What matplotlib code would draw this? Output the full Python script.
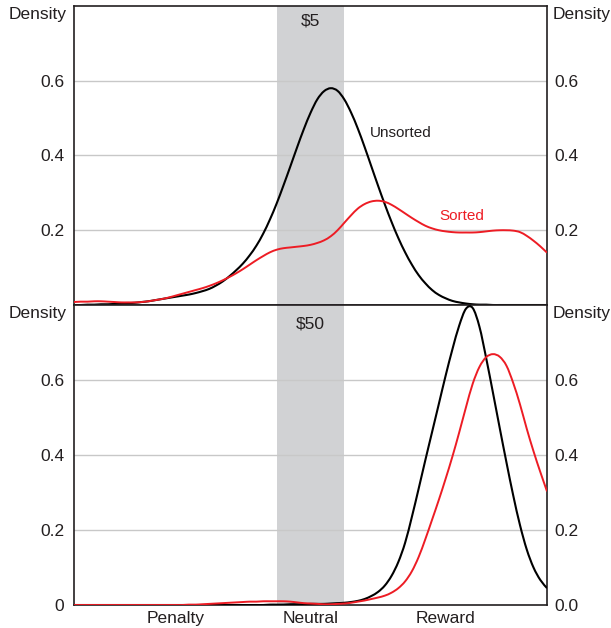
import matplotlib
matplotlib.use("Agg")
import matplotlib.pyplot as plt
import matplotlib.transforms as mtransforms
from matplotlib.path import Path
from matplotlib.patches import PathPatch
import numpy as np

plt.rcParams['font.family'] = ['Liberation Sans', 'DejaVu Sans']

# evaluation grid shared by all density curves (-1.75 .. 1.75, step 0.05)
x = np.round(np.arange(-1.75, 1.7501, 0.05), 2)

categories = ["Penalty", "Neutral", "Reward"]
category_pos = [-1, 0, 1]
neutral_band = (-0.25, 0.25)
panel_titles = ["$5", "$50"]

# $5 stake
unsorted_5 = [
    0.000, 0.000, 0.001, 0.001, 0.002, 0.002, 0.003, 0.004, 0.005, 0.006,
    0.008, 0.010, 0.013, 0.016, 0.019, 0.022, 0.025, 0.028, 0.032, 0.037,
    0.043, 0.052, 0.063, 0.077, 0.093, 0.111, 0.133, 0.159, 0.191, 0.229,
    0.272, 0.320, 0.370, 0.421, 0.470, 0.514, 0.550, 0.572, 0.580, 0.573,
    0.550, 0.515, 0.472, 0.423, 0.371, 0.319, 0.269, 0.222, 0.179, 0.141,
    0.108, 0.080, 0.058, 0.040, 0.027, 0.018, 0.011, 0.007, 0.004, 0.002,
    0.001, 0.001, 0.000, 0.000, 0.000, 0.000, 0.000, 0.000, 0.000, 0.000,
    0.000,
]
sorted_5 = [
    0.008, 0.009, 0.009, 0.010, 0.010, 0.009, 0.008, 0.007, 0.007, 0.007,
    0.008, 0.010, 0.013, 0.016, 0.020, 0.025, 0.030, 0.035, 0.040, 0.045,
    0.051, 0.058, 0.066, 0.075, 0.085, 0.096, 0.108, 0.120, 0.131, 0.141,
    0.148, 0.152, 0.154, 0.156, 0.158, 0.161, 0.166, 0.173, 0.184, 0.200,
    0.220, 0.240, 0.258, 0.270, 0.277, 0.279, 0.276, 0.268, 0.257, 0.245,
    0.233, 0.222, 0.212, 0.205, 0.200, 0.197, 0.195, 0.194, 0.194, 0.194,
    0.195, 0.197, 0.199, 0.200, 0.200, 0.199, 0.195, 0.185, 0.172, 0.157,
    0.140,
]

# $50 stake
unsorted_50 = [
    0.000, 0.000, 0.000, 0.000, 0.000, 0.000, 0.000, 0.000, 0.000, 0.000,
    0.000, 0.000, 0.000, 0.000, 0.000, 0.000, 0.000, 0.000, 0.000, 0.000,
    0.000, 0.000, 0.000, 0.000, 0.000, 0.000, 0.000, 0.000, 0.000, 0.001,
    0.001, 0.001, 0.002, 0.002, 0.002, 0.003, 0.003, 0.003, 0.004, 0.005,
    0.006, 0.008, 0.011, 0.016, 0.024, 0.035, 0.052, 0.078, 0.115, 0.166,
    0.235, 0.310, 0.387, 0.462, 0.537, 0.612, 0.682, 0.745, 0.790, 0.792,
    0.742, 0.658, 0.566, 0.472, 0.380, 0.292, 0.213, 0.148, 0.100, 0.067,
    0.045,
]
sorted_50 = [
    0.000, 0.000, 0.000, 0.000, 0.000, 0.000, 0.000, 0.000, 0.000, 0.000,
    0.000, 0.000, 0.000, 0.000, 0.000, 0.000, 0.000, 0.001, 0.001, 0.002,
    0.003, 0.004, 0.005, 0.006, 0.007, 0.008, 0.009, 0.009, 0.010, 0.010,
    0.010, 0.010, 0.009, 0.007, 0.005, 0.004, 0.003, 0.002, 0.002, 0.003,
    0.004, 0.006, 0.009, 0.012, 0.016, 0.020, 0.025, 0.033, 0.045, 0.063,
    0.090, 0.128, 0.176, 0.228, 0.281, 0.337, 0.396, 0.460, 0.527, 0.590,
    0.635, 0.661, 0.669, 0.662, 0.638, 0.592, 0.535, 0.470, 0.410, 0.355,
    0.303,
]

TEXT = "#231f20"
BAND = "#d1d2d4"
GRID = "#c8c8c8"
RED = "#ed1c24"
FS = 12.5


def smooth_curve(ax, xs, ys, color, lw):
    """Draw a line through the points as a Catmull-Rom style bezier path."""
    p = np.column_stack([xs, ys]).astype(float)
    n = len(p)
    verts = [p[0]]
    codes = [Path.MOVETO]
    for i in range(n - 1):
        p0 = p[i - 1] if i > 0 else p[i]
        p3 = p[i + 2] if i + 2 < n else p[i + 1]
        c1 = p[i] + (p[i + 1] - p0) / 6.0
        c2 = p[i + 1] - (p3 - p[i]) / 6.0
        verts += [c1, c2, p[i + 1]]
        codes += [Path.CURVE4] * 3
    patch = PathPatch(Path(verts, codes), fill=False, edgecolor=color,
                      lw=lw, zorder=3, capstyle="butt")
    ax.add_patch(patch)


fig = plt.figure(figsize=(6.11, 6.28), dpi=100)
ax_top = fig.add_axes([0.1211, 0.5143, 0.7742, 0.4762])
ax_bot = fig.add_axes([0.1211, 0.0366, 0.7742, 0.4777])

panels = [
    (ax_top, unsorted_5, sorted_5, panel_titles[0]),
    (ax_bot, unsorted_50, sorted_50, panel_titles[1]),
]

for i, (ax, black, red, title) in enumerate(panels):
    ax.axvspan(*neutral_band, color=BAND, lw=0, zorder=0)
    for g in (0.2, 0.4, 0.6):
        ax.axhline(g, color=GRID, lw=1.0, zorder=1)

    smooth_curve(ax, x, black, "black", 1.5)
    smooth_curve(ax, x, red, RED, 1.4)

    ax.set_xlim(-1.75, 1.75)
    ax.set_ylim(0, 0.8)

    for side in ("left", "right", "top", "bottom"):
        ax.spines[side].set_color(TEXT)
        ax.spines[side].set_linewidth(1.2)

    # left labels on the host axis, right labels on a twin
    ticks = [0.2, 0.4, 0.6] if i == 0 else [0.0, 0.2, 0.4, 0.6]
    ax.set_yticks(ticks)
    ax.set_yticklabels(["0" if t == 0 else f"{t:.1f}" for t in ticks])
    ax.tick_params(axis="y", length=0, pad=7, labelsize=FS, colors=TEXT)

    axr = ax.twinx()
    axr.set_ylim(0, 0.8)
    axr.set_yticks(ticks)
    axr.set_yticklabels([f"{t:.1f}" for t in ticks])
    axr.tick_params(axis="y", length=0, pad=5, labelsize=FS, colors=TEXT)
    for s in axr.spines.values():
        s.set_visible(False)

    trans_l = mtransforms.blended_transform_factory(
        ax.transAxes, ax.transData)
    ax.text(-0.016, 0.778, "Density", transform=trans_l, ha="right",
            va="center", fontsize=FS, color=TEXT)
    ax.text(1.011, 0.778, "Density", transform=trans_l, ha="left",
            va="center", fontsize=FS, color=TEXT)

    ax.text(0, 0.76 if i == 0 else 0.75, "\\" + title, ha="center",
            va="center", fontsize=FS, color=TEXT, zorder=4)

    if i == 0:
        ax.set_xticks([])
        ax.text(0.67, 0.46, "Unsorted", ha="center", va="center",
                fontsize=FS - 1.5, color=TEXT)
        ax.text(1.12, 0.237, "Sorted", ha="center", va="center",
                fontsize=FS - 1.5, color=RED)
    else:
        ax.set_xticks(category_pos)
        ax.set_xticklabels(categories)
        ax.tick_params(axis="x", length=0, pad=4, labelsize=FS, colors=TEXT)

fig.savefig("out.png", dpi=100)
